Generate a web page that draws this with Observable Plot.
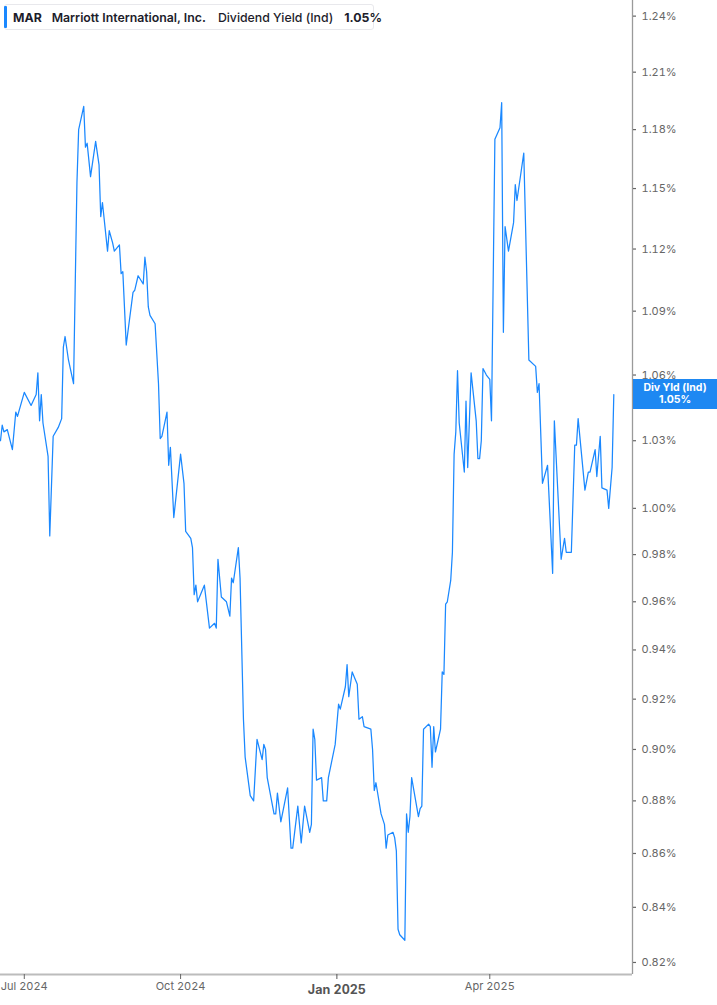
<!DOCTYPE html>
<html>
<head>
<meta charset="utf-8">
<script src="https://cdn.jsdelivr.net/npm/d3@7"></script>
<script src="https://cdn.jsdelivr.net/npm/@observablehq/plot@0.6"></script>
<style>
  html, body { margin: 0; padding: 0; background: #fff; }
  #wrap { position: relative; width: 717px; height: 1005px; font-family: Inter, "Noto Sans", sans-serif; }
  #header { position: absolute; left: 4px; top: 4px; width: 370px; height: 26px; box-sizing: border-box;
    border: 1px solid #e8e8ec; border-radius: 3px; background: #fff; display: flex; align-items: center;
    font-size: 12.3px; color: #1d1d2b; white-space: nowrap; }
  #header .bar { position: absolute; left: -1px; top: 1px; bottom: 1px; width: 3px; background: #1a88ff; border-radius: 1px; }
  #header span { display: inline-block; }
  #valbox { position: absolute; left: 633px; width: 84px; height: 30px; background: #1e88f2; color: #fff;
    font-family: Inter, sans-serif; font-weight: 700; font-size: 10.5px; line-height: 12.5px; text-align: center;
    display: flex; flex-direction: column; justify-content: center; }
</style>
</head>
<body>
<div id="wrap"></div>
<script>
const dates = ["2024-06-17","2024-06-18","2024-06-19","2024-06-21","2024-06-24","2024-06-26","2024-06-27","2024-07-01","2024-07-05","2024-07-08","2024-07-09","2024-07-10","2024-07-11","2024-07-12","2024-07-15","2024-07-16","2024-07-18","2024-07-21","2024-07-23","2024-07-24","2024-07-25","2024-07-27","2024-07-30","2024-08-01","2024-08-02","2024-08-05","2024-08-06","2024-08-07","2024-08-09","2024-08-12","2024-08-14","2024-08-15","2024-08-16","2024-08-19","2024-08-20","2024-08-22","2024-08-23","2024-08-26","2024-08-27","2024-08-28","2024-08-30","2024-09-03","2024-09-04","2024-09-06","2024-09-09","2024-09-10","2024-09-11","2024-09-12","2024-09-13","2024-09-16","2024-09-18","2024-09-19","2024-09-20","2024-09-23","2024-09-24","2024-09-25","2024-09-27","2024-10-01","2024-10-03","2024-10-04","2024-10-07","2024-10-08","2024-10-09","2024-10-10","2024-10-11","2024-10-15","2024-10-18","2024-10-21","2024-10-22","2024-10-23","2024-10-25","2024-10-28","2024-10-30","2024-10-31","2024-11-01","2024-11-04","2024-11-05","2024-11-07","2024-11-08","2024-11-11","2024-11-13","2024-11-15","2024-11-18","2024-11-19","2024-11-20","2024-11-21","2024-11-25","2024-11-26","2024-11-27","2024-11-29","2024-12-03","2024-12-05","2024-12-06","2024-12-09","2024-12-11","2024-12-13","2024-12-16","2024-12-17","2024-12-18","2024-12-19","2024-12-20","2024-12-23","2024-12-24","2024-12-26","2024-12-27","2024-12-31","2025-01-02","2025-01-03","2025-01-06","2025-01-07","2025-01-08","2025-01-10","2025-01-13","2025-01-14","2025-01-16","2025-01-17","2025-01-21","2025-01-22","2025-01-23","2025-01-24","2025-01-27","2025-01-29","2025-01-30","2025-01-31","2025-02-03","2025-02-04","2025-02-05","2025-02-06","2025-02-07","2025-02-10","2025-02-11","2025-02-12","2025-02-13","2025-02-14","2025-02-18","2025-02-19","2025-02-20","2025-02-21","2025-02-24","2025-02-25","2025-02-26","2025-02-27","2025-02-28","2025-03-03","2025-03-04","2025-03-05","2025-03-06","2025-03-07","2025-03-09","2025-03-10","2025-03-11","2025-03-12","2025-03-13","2025-03-14","2025-03-17","2025-03-18","2025-03-19","2025-03-21","2025-03-24","2025-03-25","2025-03-26","2025-03-27","2025-03-28","2025-03-30","2025-04-01","2025-04-02","2025-04-04","2025-04-07","2025-04-08","2025-04-09","2025-04-10","2025-04-12","2025-04-15","2025-04-16","2025-04-17","2025-04-21","2025-04-24","2025-04-28","2025-04-29","2025-04-30","2025-05-02","2025-05-05","2025-05-08","2025-05-09","2025-05-13","2025-05-15","2025-05-16","2025-05-19","2025-05-21","2025-05-22","2025-05-23","2025-05-27","2025-05-29","2025-05-30","2025-06-02","2025-06-03","2025-06-05","2025-06-06","2025-06-09","2025-06-10","2025-06-12","2025-06-13"];

const yields = [1.030,1.037,1.034,1.035,1.026,1.043,1.041,1.052,1.046,1.051,1.061,1.039,1.051,1.038,1.023,0.988,1.032,1.036,1.040,1.073,1.078,1.067,1.056,1.153,1.180,1.192,1.171,1.173,1.156,1.174,1.162,1.136,1.143,1.119,1.129,1.123,1.119,1.122,1.108,1.109,1.074,1.099,1.100,1.107,1.103,1.116,1.109,1.092,1.088,1.084,1.056,1.031,1.032,1.043,1.019,1.027,0.996,1.024,1.011,0.990,0.987,0.983,0.963,0.967,0.960,0.967,0.949,0.951,0.949,0.978,0.962,0.960,0.954,0.970,0.968,0.983,0.970,0.912,0.897,0.882,0.880,0.904,0.896,0.902,0.900,0.889,0.875,0.875,0.883,0.872,0.885,0.862,0.862,0.878,0.864,0.878,0.868,0.871,0.908,0.904,0.888,0.889,0.880,0.880,0.889,0.902,0.918,0.916,0.925,0.934,0.921,0.931,0.926,0.912,0.913,0.909,0.908,0.900,0.884,0.887,0.875,0.871,0.862,0.867,0.868,0.866,0.861,0.832,0.830,0.828,0.875,0.868,0.874,0.889,0.874,0.877,0.878,0.908,0.910,0.909,0.893,0.909,0.899,0.908,0.931,0.930,0.959,0.960,0.969,0.981,1.024,1.034,1.062,1.038,1.016,1.048,1.018,1.061,1.039,1.022,1.022,1.030,1.063,1.060,1.058,1.039,1.175,1.181,1.194,1.080,1.131,1.119,1.133,1.152,1.144,1.168,1.067,1.064,1.052,1.056,1.011,1.019,0.972,1.039,0.978,0.987,0.981,0.981,1.028,1.028,1.040,1.008,1.016,1.016,1.026,1.014,1.032,1.009,1.008,1.000,1.018,1.051];

const yTicks = [0.82,0.84,0.86,0.88,0.90,0.92,0.94,0.96,0.98,1.00,1.03,1.06,1.09,1.12,1.15,1.18,1.21,1.24];
const xTicksRegular = ["2024-07-01","2024-10-01","2025-04-01"];
const xTicksYear = ["2025-01-01"];
const xDomain = ["2024-06-17","2025-06-24"];
const yDomain = [0.8157, 1.2485];

const ticker = "MAR";
const company = "Marriott International, Inc.";
const metric = "Dividend Yield (Ind)";
const metricShort = "Div Yld (Ind)";

const data = dates.map((d, i) => ({date: new Date(d), value: yields[i]}));
const fmtPct = v => v.toFixed(2) + "%";
const fmtDate = d3.utcFormat("%b %Y");

const chart = Plot.plot({
  width: 717,
  height: 1005,
  marginLeft: 0,
  marginRight: 85,
  marginTop: 0,
  marginBottom: 31,
  style: {fontFamily: "Inter, 'Noto Sans', sans-serif", fontSize: "11px", background: "#fff"},
  x: {type: "utc", domain: xDomain.map(d => new Date(d)), label: null},
  y: {type: "log", domain: yDomain, label: null},
  marks: [
    Plot.ruleY([yDomain[0]], {stroke: "#bcbcbc", strokeWidth: 2}),
    Plot.ruleX([new Date(xDomain[1])], {stroke: "#9a9a9a", strokeWidth: 1.3}),
    Plot.axisY(yTicks, {anchor: "right", label: null, tickSize: 3, tickPadding: 6, tickFormat: fmtPct, color: "#666", fontSize: 11, strokeWidth: 1.2}),
    Plot.axisX(xTicksRegular.map(d => new Date(d)), {anchor: "bottom", label: null, tickSize: 5, tickPadding: 3, tickFormat: fmtDate, color: "#666", fontSize: 11}),
    Plot.axisX(xTicksYear.map(d => new Date(d)), {anchor: "bottom", label: null, tickSize: 5, tickPadding: 6, tickFormat: fmtDate, color: "#555", fontSize: 12.5, fontWeight: "bold"}),
    Plot.lineY(data, {x: "date", y: "value", stroke: "#1a88ff", strokeWidth: 1.25})
  ]
});

const wrap = document.getElementById("wrap");
wrap.appendChild(chart);

const last = yields[yields.length - 1];
const header = document.createElement("div");
header.id = "header";
header.innerHTML = `<div class="bar"></div>
  <span style="margin-left:8px;font-weight:700">${ticker}</span>
  <span style="margin-left:10px;font-weight:600">${company}</span>
  <span style="margin-left:12px;font-weight:500">${metric}</span>
  <span style="margin-left:11px;font-weight:700">${fmtPct(last)}</span>`;
wrap.appendChild(header);

const yPos = chart.scale("y").apply(last);
const box = document.createElement("div");
box.id = "valbox";
box.style.top = (yPos - 15) + "px";
box.innerHTML = `<div>${metricShort}</div><div>${fmtPct(last)}</div>`;
wrap.appendChild(box);
</script>
</body>
</html>
